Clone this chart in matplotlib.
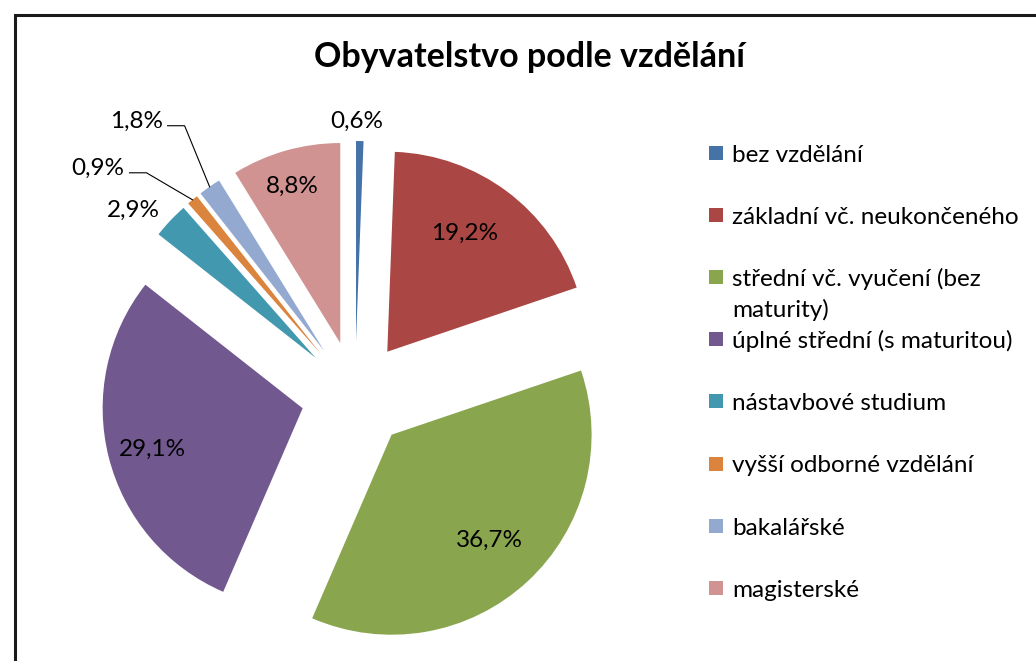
import textwrap

import matplotlib

matplotlib.use("Agg")
from matplotlib import pyplot as plt
from matplotlib.patches import Rectangle
import numpy as np

# ----
# Data
# ----
categories = [
    "bez vzdělání",
    "základní vč. neukončeného",
    "střední vč. vyučení (bez maturity)",
    "úplné střední (s maturitou)",
    "nástavbové studium",
    "vyšší odborné vzdělání",
    "bakalářské",
    "magisterské",
]
shares = [0.6, 19.2, 36.7, 29.1, 2.9, 0.9, 1.8, 8.8]  # [%]
colors = ["#4572A7", "#AA4643", "#89A54E", "#71588F",
          "#4198AF", "#DB843D", "#93A9CF", "#D19392"]
title = "Obyvatelstvo podle vzdělání"

# ------
# Layout (pixels, figure is 1036 x 661)
# ------
W, H = 1036, 661
pie_center = (355, H - 395)
pie_radius = 200
explode_px = 54

# label placement: fraction of radius along bisector, small angular turn
label_r = [1.10, 0.71, 0.72, 0.78, 1.17, None, None, 0.82]
label_turn = [0.8, 3.5, 0, 1.0, 4.4, 0, 0, 1.0]
# labels with leader lines: offset of the text's right edge from slice tip
leader_offset = {5: (-68, 31), 6: (-47, 65)}

plt.rcParams["font.family"] = ["Lato", "DejaVu Sans"]

fig = plt.figure(figsize=(W / 100, H / 100), dpi=100)
ax = fig.add_axes([0, 0, 1, 1])

wedges, _ = ax.pie(
    shares,
    explode=[explode_px] * len(shares),
    radius=pie_radius,
    center=pie_center,
    startangle=90,
    counterclock=False,
    colors=colors,
    wedgeprops=dict(linewidth=0),
)
ax.set_xlim(0, W)
ax.set_ylim(0, H)
ax.set_aspect("equal")
ax.axis("off")

# data labels
for i, (w, val) in enumerate(zip(wedges, shares)):
    txt = f"{val:.1f}".replace(".", ",") + "%"
    cx, cy = w.center
    th = np.deg2rad((w.theta1 + w.theta2) / 2)
    if i in leader_offset:
        tip = (cx + w.r * np.cos(th), cy + w.r * np.sin(th))
        dx, dy = leader_offset[i]
        ax_x, ax_y = tip[0] + dx, tip[1] + dy
        ax.text(ax_x, ax_y, txt, ha="right", va="center", fontsize=17.5)
        sx, sy = ax_x + 5, ax_y - 4
        ax.plot([sx, sx + 17, tip[0]], [sy, sy, tip[1]],
                color="black", lw=0.8)
    else:
        tt = th + np.deg2rad(label_turn[i])
        rr = label_r[i] * w.r
        ax.text(cx + rr * np.cos(tt), cy + rr * np.sin(tt), txt,
                ha="center", va="center", fontsize=17.5)

# title
ax.text(530, H - 67, title, ha="center", va="baseline",
        fontsize=24.5, fontweight="bold")

# legend
leg_x, leg_y0, leg_step, line_h = 709, 153, 62.1, 31
for i, (name, col) in enumerate(zip(categories, colors)):
    yc = H - (leg_y0 + leg_step * i)
    ax.add_patch(Rectangle((leg_x, yc - 7), 14, 14, color=col, lw=0))
    for j, line in enumerate(textwrap.wrap(name, 27)):
        ax.text(leg_x + 23, yc - 9 - line_h * j, line,
                ha="left", va="baseline", fontsize=17.5)

# chart border
ax.add_patch(Rectangle((15, -20), W + 40, H - 15 + 20, fill=False,
                       edgecolor="#1a1a1a", lw=2.2, clip_on=False))

fig.savefig("out.png", dpi=100)
